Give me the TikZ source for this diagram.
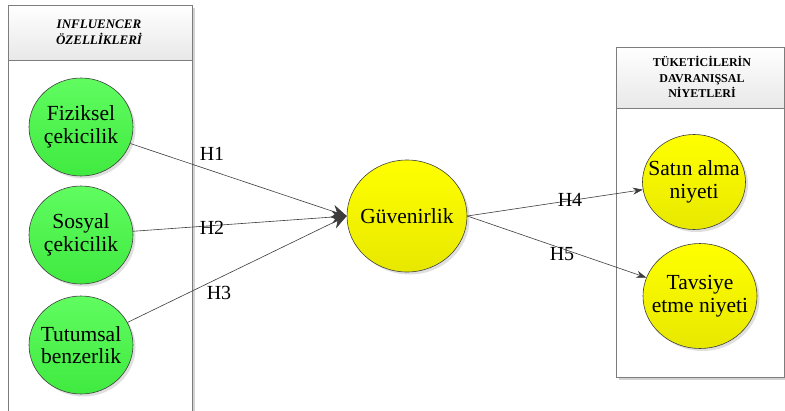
\documentclass[tikz,border=0pt]{standalone}
\usepackage{fontspec}
\setmainfont{Liberation Serif}
\usepackage{tikz}
\usetikzlibrary{arrows,arrows.meta,shapes,positioning,shadows}
\definecolor{ifgreen}{RGB}{96,252,96}
\definecolor{ifgreendk}{RGB}{64,234,64}
\definecolor{tyellow}{RGB}{255,255,0}
\definecolor{tyellowdk}{RGB}{232,232,0}
\definecolor{lineg}{RGB}{60,60,60}
\definecolor{frameg}{RGB}{125,125,125}
\tikzstyle{construct} = [ellipse, draw=black!75, line width=0.6pt, inner sep=0pt, drop shadow={shadow xshift=2.5pt, shadow yshift=-2.5pt, opacity=0.25}]
\tikzstyle{cgreen} = [construct, top color=ifgreen, bottom color=ifgreendk, minimum width=104pt, minimum height=98pt]
\tikzstyle{cyel} = [construct, top color=tyellow, bottom color=tyellowdk]
\tikzstyle{ctext} = [align=center, font=\fontsize{21.5}{22.5}\selectfont]
\tikzstyle{hyp} = [font=\fontsize{20}{22}\selectfont, inner sep=0pt]
\tikzstyle{link} = [line width=0.6pt, color=lineg, -{Stealth[length=15pt,width=13pt]}]
\tikzstyle{linksm} = [line width=0.6pt, color=lineg, -{Stealth[length=10pt,width=7pt]}]
\tikzstyle{header} = [align=center, font=\fontsize{12}{15.5}\selectfont\bfseries]
\tikzstyle{panel} = [draw=frameg, line width=0.7pt]

\begin{document}
\begin{tikzpicture}[x=1pt, y=-1pt]
\useasboundingbox[fill=white] (0,0) rectangle (785,410);

% Left panel
\fill[gray!35] (11,8) rectangle (195,420);
\fill[white] (8,60) rectangle (192,420);
\shade[top color=white, bottom color=gray!18] (8,5) rectangle (192,60);
\draw[panel] (8,5) rectangle (192,420);
\draw[panel] (8,60) -- (192,60);
\node[header, font=\fontsize{13}{16}\selectfont\bfseries\itshape] (lefthead) at (99,32) {INFLUENCER\\ÖZELLİKLERİ};

% Right panel
\fill[gray!35] (619,50) rectangle (787,380);
\fill[white] (616,108) rectangle (784,377);
\shade[top color=white, bottom color=gray!18] (616,47) rectangle (784,108);
\draw[panel] (616,47) rectangle (784,377);
\draw[panel] (616,108) -- (784,108);
\node[header] (righthead) at (702,77) {TÜKETİCİLERİN\\DAVRANIŞSAL\\NİYETLERİ};

% Constructs
\node[cgreen, label={[ctext]center:Fiziksel\\çekicilik}] (fiz) at (81,127) {};
\node[cgreen, label={[ctext]center:Sosyal\\çekicilik}] (sos) at (81,235) {};
\node[cgreen, label={[ctext]center:Tutumsal\\benzerlik}] (tut) at (81,345) {};
\node[cyel, minimum width=120pt, minimum height=112pt, label={[ctext]center:Güvenirlik}] (guv) at (407,216) {};
\node[cyel, minimum width=103pt, minimum height=95pt, label={[ctext]center:Satın alma\\niyeti}] (satin) at (694,182) {};
\node[cyel, minimum width=114pt, minimum height=105pt, label={[ctext]center:Tavsiye\\etme niyeti}] (tavsiye) at (700,296) {};

% Hypotheses
\draw[link] (fiz) -- (guv.west);
\draw[link] (sos) -- (guv.west);
\draw[link] (tut) -- (guv.west);
\draw[linksm] (guv.east) -- (satin);
\draw[linksm] (guv.east) -- (tavsiye);

\node[hyp] (h1) at (212,154) {H1};
\node[hyp] (h2) at (212,228) {H2};
\node[hyp] (h3) at (219,293) {H3};
\node[hyp] (h4) at (570,200) {H4};
\node[hyp] (h5) at (562,254) {H5};
\end{tikzpicture}
\end{document}
